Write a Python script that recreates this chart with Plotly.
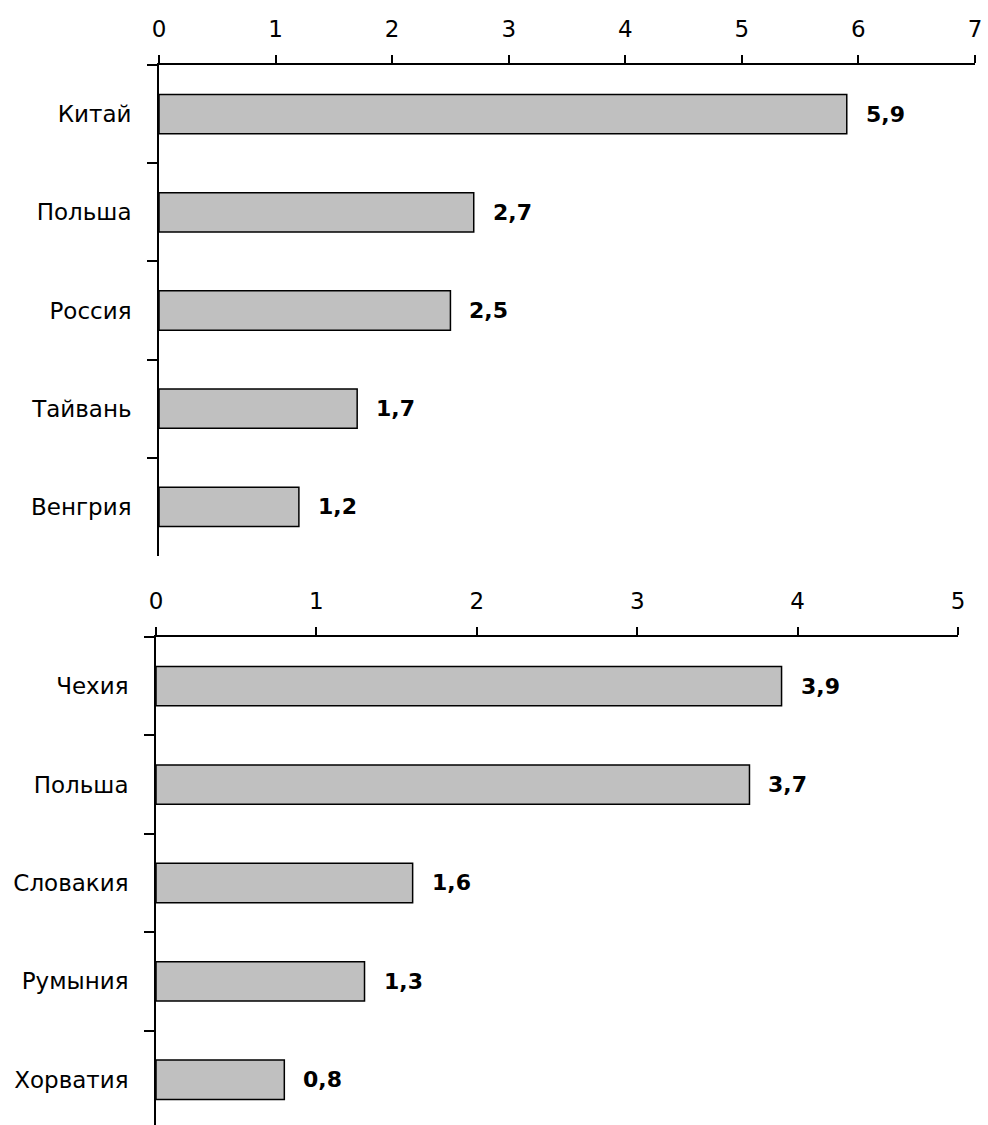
import plotly.graph_objects as go

# Top panel
countries_top = ["Китай", "Польша", "Россия", "Тайвань", "Венгрия"]
values_top = [5.9, 2.7, 2.5, 1.7, 1.2]
x_ticks_top = [0, 1, 2, 3, 4, 5, 6, 7]

# Bottom panel
countries_bottom = ["Чехия", "Польша", "Словакия", "Румыния", "Хорватия"]
values_bottom = [3.9, 3.7, 1.6, 1.3, 0.8]
x_ticks_bottom = [0, 1, 2, 3, 4, 5]

FONT = "DejaVu Sans, Verdana, sans-serif"
BAR_FILL = "#c0c0c0"
W, H = 988, 1125
FS = 23


def fmt(v):
    return f"{v:.1f}".replace(".", ",")


fig = go.Figure()

fig.add_trace(go.Bar(
    x=values_top, y=countries_top, orientation="h",
    xaxis="x", yaxis="y", width=0.4,
    marker=dict(color=BAR_FILL, line=dict(color="black", width=1.5)),
    hoverinfo="skip",
))
fig.add_trace(go.Bar(
    x=values_bottom, y=countries_bottom, orientation="h",
    xaxis="x2", yaxis="y2", width=0.4,
    marker=dict(color=BAR_FILL, line=dict(color="black", width=1.5)),
    hoverinfo="skip",
))

annotations = []
for c, v in zip(countries_top, values_top):
    annotations.append(dict(x=v, y=c, xref="x", yref="y", text=f"<b>{fmt(v)}</b>",
                            showarrow=False, xanchor="left", xshift=17,
                            font=dict(family=FONT, size=FS - 1, color="black")))
for c, v in zip(countries_bottom, values_bottom):
    annotations.append(dict(x=v, y=c, xref="x2", yref="y2", text=f"<b>{fmt(v)}</b>",
                            showarrow=False, xanchor="left", xshift=17,
                            font=dict(family=FONT, size=FS - 1, color="black")))

x_common = dict(side="top", showline=True, linecolor="black", linewidth=1.8,
                ticks="outside", ticklen=8, tickwidth=1.8, tickcolor="black",
                showgrid=False, zeroline=False, ticklabelstandoff=9,
                automargin=False,
                tickfont=dict(family=FONT, size=FS, color="black"))
y_common = dict(type="category", showline=True, linecolor="black", linewidth=1.8,
                ticks="outside", ticklen=10, tickwidth=1.8, tickcolor="black",
                tickson="boundaries", showgrid=False, zeroline=False,
                ticklabelstandoff=21, automargin=False,
                tickfont=dict(family=FONT, size=FS, color="black"))

fig.update_layout(
    width=W, height=H,
    margin=dict(l=0, r=0, t=0, b=0, pad=0),
    paper_bgcolor="white", plot_bgcolor="white",
    showlegend=False,
    bargap=0.6,
    xaxis=dict(**x_common, domain=[159 / W, 975 / W], range=[0, 7],
               tickvals=x_ticks_top, anchor="y"),
    yaxis=dict(**y_common, domain=[1 - 556 / H, 1 - 65 / H],
               categoryorder="array", categoryarray=countries_top,
               range=[4.5, -0.5], anchor="x"),
    xaxis2=dict(**x_common, domain=[156 / W, 958 / W], range=[0, 5],
                tickvals=x_ticks_bottom, anchor="y2"),
    yaxis2=dict(**y_common, domain=[0, 1 - 637 / H],
                categoryorder="array", categoryarray=countries_bottom,
                range=[4.46, -0.5], anchor="x2"),
    annotations=annotations,
)

fig.write_html("out.html")
